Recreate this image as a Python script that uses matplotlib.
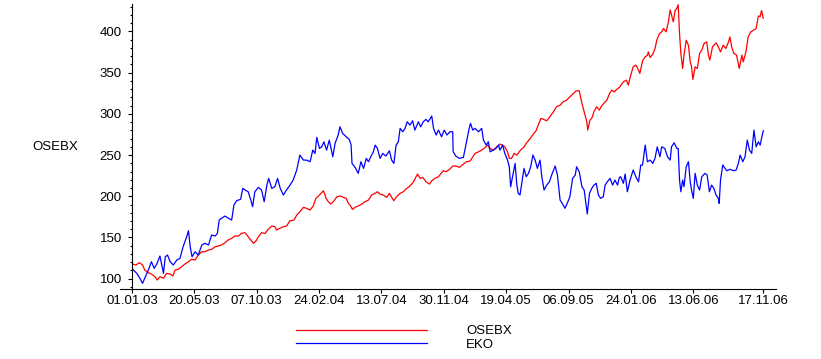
import numpy as np
import pandas as pd
import matplotlib
matplotlib.use('Agg')
from matplotlib import pyplot as plt
from matplotlib import dates as mdates
from matplotlib.ticker import MultipleLocator

plt.rcParams['font.family'] = ['Liberation Sans', 'DejaVu Sans']

start = pd.Timestamp('2003-01-01')

# EKO (blue), days after 01.01.03 and index level
eko_days = [1, 10, 17, 23, 28, 36, 43, 49, 55, 62, 70, 74, 79, 85, 92, 100, 107, 114, 122, 126,
            130, 134, 141, 148, 156, 163, 171, 178, 186, 191, 195, 200, 208, 216, 223, 228, 234, 243,
            248, 253, 260, 266, 270, 275, 283, 290, 296, 302, 306, 313, 320, 326, 332, 339, 346,
            354, 361, 369, 376, 384, 391, 399, 405, 410, 414, 420, 425, 430, 436, 442, 450, 455,
            462, 466, 472, 480, 487, 491, 493, 500, 507, 513, 519, 525, 530, 535, 541, 545, 550,
            556, 562, 569, 577, 582, 587, 592, 597, 601, 607, 612, 617, 623, 629, 634, 642, 647,
            653, 659, 664, 672, 676, 682, 687, 694, 700, 706, 713, 719, 720, 726, 734,
            743, 747, 752, 756, 759, 764, 769, 777, 784, 788, 794, 799, 803, 810, 816, 822, 825,
            831, 836, 842, 846, 849, 854, 859, 863, 866, 870, 874, 879, 884, 889, 894, 899, 904,
            909, 915, 919, 924, 930, 936, 941, 949, 954, 960, 967, 971, 976, 982, 988, 994, 997,
            1003, 1009, 1014, 1018, 1021, 1026, 1031, 1036, 1041, 1046, 1051, 1057, 1061, 1066,
            1072, 1078, 1083, 1089, 1093,
            1096, 1102, 1106, 1111, 1117, 1124, 1130, 1136, 1141, 1145, 1151, 1156, 1162, 1168,
            1173, 1178, 1184, 1188, 1195, 1201, 1207, 1210, 1216, 1222, 1225, 1228, 1231, 1235,
            1238, 1243, 1248, 1252, 1255, 1259, 1263, 1268, 1273, 1278, 1285, 1290, 1295, 1300,
            1305, 1310, 1315, 1317, 1320, 1325, 1330, 1334, 1341, 1349, 1355, 1360, 1364, 1370,
            1375, 1380, 1385, 1390, 1395, 1400, 1405, 1409, 1412, 1416]
eko_vals = [111.4, 106.5, 100.5, 94.4, 100.5, 110.5, 120.6, 112.6, 117.8, 127.5, 106.5, 126.7,
            128.7, 120.6, 116.6, 122.7, 124.7, 138.8, 150.9, 158.2, 138.8, 126.7, 132.7, 128.7,
            140.9, 142.9, 140.9, 153.0, 151.8, 155.0, 171.2, 173.2, 176.0, 173.2, 171.2, 189.4,
            194.6, 196.3, 209.6, 207.6, 205.5, 195.4, 187.3, 205.5, 210.8, 207.6, 193.4, 213.6,
            221.7, 209.6, 211.6, 221.7, 209.6, 201.5, 207.6,
            213.6, 219.7, 231.8, 250.0, 243.9, 243.9, 241.9, 256.0, 252.0, 271.5, 258.1, 260.0,
            266.1, 256.0, 268.2, 247.9, 264.2, 274.3, 284.3, 276.3, 272.2, 269.0, 262.1, 239.9,
            235.1, 227.8, 241.9, 233.9, 246.0, 241.9, 247.9, 254.0, 262.1, 258.1, 246.0, 252.0,
            248.8, 255.2, 243.9, 239.9, 262.1, 266.1, 282.4, 278.3, 282.4, 290.4, 286.4, 291.6,
            280.3, 290.4, 284.3, 290.4, 293.3, 290.4, 297.3, 282.4, 274.3, 280.3, 272.2, 280.3,
            274.3, 278.3, 278.3, 254.0, 248.8, 246.0,
            247.2, 258.1, 272.2, 282.4, 288.4, 280.3, 282.4, 278.3, 282.4, 268.2, 262.1, 266.1,
            254.0, 256.0, 258.1, 262.1, 256.0, 262.1, 252.0, 243.9, 235.8, 211.6, 225.7, 239.9,
            213.6, 203.6, 201.5, 215.7, 233.9, 223.7, 227.8, 235.8, 250.0, 243.9, 233.9, 243.9,
            223.7, 207.6, 213.6, 217.6, 225.7, 236.7, 225.7, 195.4, 189.4, 185.4, 191.4, 199.4,
            221.7, 225.7, 235.8, 229.7, 211.6, 207.6, 191.4, 178.5, 203.6, 209.6, 213.6, 215.7,
            201.5, 197.5, 199.4, 213.6, 217.6, 221.7, 213.6, 219.7, 213.6, 222.9,
            223.7, 215.7, 227.0, 205.5, 219.7, 231.8, 223.7, 217.6, 237.9, 237.9, 262.1, 241.9,
            243.9, 239.9, 246.0, 260.0, 247.9, 260.0, 258.1, 247.9, 243.9, 260.0, 264.9, 258.1,
            258.1, 219.7, 205.5, 219.7, 211.6, 235.8, 241.9, 217.6, 207.6, 197.5, 227.8, 213.6,
            207.6, 223.7, 227.8, 225.7, 205.5, 213.6, 209.6, 201.5, 197.5, 191.4, 219.7, 237.9,
            233.9, 231.0, 232.7, 231.0, 231.8, 239.9, 250.0, 241.9, 247.9, 268.2, 256.0, 252.0,
            280.3, 260.0, 266.1, 262.1, 270.2, 279.5]

# OSEBX (red)
osebx_days = [1, 8, 16, 23, 28, 36, 43, 51, 56, 62, 70, 77, 85, 91, 96, 103, 111, 118, 126, 133,
              141, 148, 156, 163, 171, 178, 186, 193, 200, 208, 215, 223, 230, 238, 245, 253, 260,
              266, 272, 278, 283, 290, 298, 305, 313, 320, 324, 331, 339, 346,
              354, 363, 369, 376, 384, 391, 399, 406, 412, 420, 429, 435, 440, 445, 451, 459, 466,
              474, 480, 485, 490, 494, 500, 507, 515, 522, 530, 537, 545, 550, 556, 563, 571, 577,
              582, 587, 593, 601, 608, 616, 623, 631, 637, 640, 646, 652, 659, 667, 672, 679, 687,
              692, 698, 704, 712, 719, 726, 734,
              743, 750, 758, 764, 769, 777, 784, 792, 797, 803, 810, 818, 825, 831, 836, 842, 846,
              851, 857, 863, 870, 878, 885, 893, 900, 906, 911, 917, 923, 930, 937, 945, 952, 960,
              967, 975, 982, 990, 996, 1003, 1009, 1012, 1016, 1020, 1022, 1027, 1031, 1036, 1042,
              1048, 1053, 1059, 1065, 1071, 1076, 1081, 1087, 1093,
              1102, 1109, 1113, 1118, 1124, 1130, 1136, 1139, 1145, 1151, 1156, 1158, 1162, 1168,
              1173, 1177, 1183, 1188, 1192, 1198, 1203, 1207, 1210, 1214, 1218, 1222, 1225, 1228,
              1231, 1235, 1238, 1243, 1248, 1252, 1255, 1258, 1263, 1268, 1273, 1278, 1283, 1289,
              1293, 1296, 1302, 1310, 1315, 1320, 1326, 1332, 1338, 1341, 1345, 1350, 1356, 1362,
              1368, 1371, 1377, 1382, 1388, 1394, 1400, 1405, 1409, 1412, 1416]
osebx_vals = [117.8, 116.6, 119.4, 116.6, 110.5, 107.3, 105.7, 102.4, 98.4, 102.4, 100.5, 106.5,
              105.7, 103.3, 110.5, 111.4, 114.6, 117.8, 120.6, 123.5, 122.7, 128.7, 132.7, 132.7,
              134.8, 135.6, 138.8, 139.6, 140.9, 143.7, 146.9, 149.0, 151.8, 151.8, 155.0, 155.8,
              150.9, 146.9, 142.9, 146.1, 150.9, 155.8, 155.0, 159.9, 163.9, 163.1, 159.1, 161.1,
              163.1, 163.9,
              170.3, 171.2, 177.2, 181.2, 186.6, 185.4, 183.3, 188.2, 197.5, 201.5, 206.7, 197.5,
              193.4, 190.6, 193.4, 199.4, 200.3, 198.7, 197.5, 191.4, 188.2, 184.2, 186.6, 188.2,
              190.6, 193.4, 195.4, 201.5, 203.6, 205.5, 202.7, 201.5, 198.7, 203.6, 198.7, 194.6,
              199.4, 203.6, 205.5, 209.6, 212.4, 217.6, 223.7, 227.0, 221.7, 222.9, 217.6, 214.8,
              218.8, 221.7, 223.7, 227.0, 231.0, 229.7, 232.7, 236.7, 236.7, 235.1,
              239.1, 241.9, 242.7, 247.9, 252.0, 254.0, 256.0, 259.3, 262.1, 258.1, 256.0, 260.0,
              263.3, 262.1, 260.0, 254.0, 246.0, 246.0, 252.0, 250.0, 255.2, 259.3, 264.9, 270.2,
              275.5, 279.5, 286.4, 294.5, 293.3, 291.6, 296.4, 302.5, 308.6, 310.6, 314.6, 316.7,
              320.7, 324.8, 328.0, 328.0, 312.7, 306.6, 298.5, 290.4, 280.3, 292.4, 294.5, 302.5,
              308.6, 304.6, 309.4, 313.4, 316.7, 324.8, 328.8, 326.7, 329.6, 332.1,
              338.9, 340.9, 334.9, 345.8, 357.1, 359.2, 353.1, 349.0, 364.3, 369.2, 371.2, 375.2,
              368.4, 372.4, 379.3, 389.4, 397.5, 399.5, 403.6, 399.5, 411.6, 426.2, 420.1, 411.6,
              425.4, 428.2, 432.4, 397.5, 373.3, 355.1, 371.2, 389.4, 383.3, 363.1, 357.1, 341.8,
              357.1, 355.1, 373.3, 377.3, 385.4, 387.4, 371.2, 365.2, 381.3, 386.2, 381.3, 375.2,
              383.3, 379.3, 387.4, 393.4, 381.3, 373.3, 371.2, 355.1, 371.2, 363.1, 375.2, 393.4,
              399.5, 401.6, 403.6, 418.8, 418.0, 425.4, 416.1]

tick_labels = ['01.01.03', '20.05.03', '07.10.03', '24.02.04', '13.07.04', '30.11.04',
               '19.04.05', '06.09.05', '24.01.06', '13.06.06', '17.11.06']
y_ticks = [100, 150, 200, 250, 300, 350, 400]

eko_dates = start + pd.to_timedelta(eko_days, unit='D')
osebx_dates = start + pd.to_timedelta(osebx_days, unit='D')
tick_dates = pd.to_datetime(tick_labels, format='%d.%m.%y')

fig = plt.figure(figsize=(8.21, 3.59), dpi=100)
ax = fig.add_axes([120 / 821, 1 - 289 / 359, 656 / 821, 285 / 359])

ax.plot(osebx_dates, osebx_vals, color='#ff0000', lw=0.9, label='OSEBX')
ax.plot(eko_dates, eko_vals, color='#0000ff', lw=0.9, label='EKO')

ax.set_xlim(start - pd.Timedelta(days=27.6), start + pd.Timedelta(days=1444.5))
ax.set_ylim(87.5, 433.3)

ax.spines['top'].set_visible(False)
ax.spines['right'].set_visible(False)
ax.spines['left'].set_position(('data', mdates.date2num(start)))
ax.spines['left'].set_linewidth(0.8)
ax.spines['bottom'].set_linewidth(0.8)

ax.set_xticks(tick_dates)
ax.set_xticklabels(tick_labels)
ax.set_yticks(y_ticks)
ax.yaxis.set_minor_locator(MultipleLocator(10))
ax.tick_params(axis='x', length=3, width=0.8, pad=1, labelsize=9.5)
ax.tick_params(axis='y', which='major', length=2.6, width=0.8, pad=5, labelsize=9.5)
ax.tick_params(axis='y', which='minor', length=1.6, width=0.8)

fig.text(32 / 821, 1 - 147 / 359, 'OSEBX', ha='left', va='center', fontsize=9.5)

fig.legend(loc='center left', bbox_to_anchor=(296 / 821, 1 - 338 / 359), frameon=False,
           fontsize=9.5, handlelength=9.9, handletextpad=3.0, labelspacing=0.08,
           borderpad=0, borderaxespad=0)

fig.savefig('out.png', dpi=100)
